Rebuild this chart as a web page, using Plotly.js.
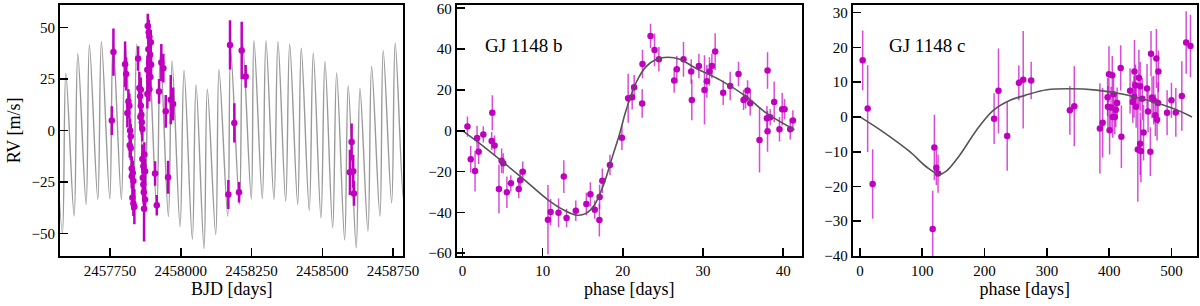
<!DOCTYPE html>
<html>
<head>
<meta charset="utf-8">
<script src="https://cdn.plot.ly/plotly-3.0.1.min.js"></script>
<style>html,body{margin:0;padding:0;background:#fff}#chart{width:1200px;height:306px}</style>
</head>
<body>
<div id="chart"></div>
<script>
// ---------- Left panel: time series ----------
var ts_bjd = [2457756, 2457761.8, 2457803, 2457806.5, 2457811, 2457814.7, 2457818, 2457819.6, 2457820.6, 2457823,
  2457823, 2457826.5, 2457826.5, 2457830, 2457828.8, 2457832.3, 2457832.3, 2457835.8, 2457848.9, 2457853.5,
  2457856, 2457858.4, 2457858.4, 2457857, 2457860.5, 2457862, 2457864, 2457864, 2457865.5, 2457867.6,
  2457867.6, 2457869, 2457870, 2457871, 2457873.6, 2457873.6, 2457881.7, 2457881.7, 2457883.1, 2457885.3,
  2457886.6, 2457887.7, 2457887.7, 2457888.8, 2457888.8, 2457891.2, 2457892.3, 2457893.7, 2457894.8, 2457908.9,
  2457914.9, 2457923, 2457931, 2457938.2, 2457946.6, 2457954.8, 2457964.3, 2457972.5,
  2458167.8, 2458173.7, 2458189, 2458205.5, 2458215, 2458229.1,
  2458597.4, 2458603.4, 2458609, 2458611.6];
var ts_rv = [4.8, 38.1, 32.2, 27.5, 8.5, 14.1, 12, -7.2, 0, -2.8,
  -8.5, -18.5, -22.2, -20.6, -32.7, -24.6, -35.5, -37.1, 35, 20.6,
  16.6, 19.8, 12, 6.6, 7.7, 4, 0.7, -13.8, -23, -17.4,
  -26.2, -30, -38, -11.7, -19.8, -33.5, 29.5, 17.7, 50.8, 39.5,
  47.8, 33, 26.3, 45.6, 20.1, 36.8, 26, 42.9, 31.9, -20.9,
  -36.3, 19, 33, 30.3, 9.3, -22.7, 15, 12.9,
  -31.1, 41.6, 3.7, -30, 38.9, 26.3,
  -20.3, -5.6, -19.8, -30.6];
var ts_err = [7, 11.5, 11, 8, 7, 6, 6, 6, 6, 6,
  6, 6, 6, 6, 6, 6, 6, 8.5, 6, 8,
  7, 6, 6, 6, 6, 6, 6, 7, 7, 6,
  7, 6, 16, 6, 6, 6, 7, 7, 6, 7,
  6, 7, 7, 6, 6, 6, 6, 6, 6, 6,
  5, 6, 9, 7, 8, 8, 12, 8,
  7, 12, 9.5, 5, 14, 5.5,
  11, 9, 8, 6];
// model curve (extrema)
var model_bjd = [2457552.2, 2457581.6, 2457593.6, 2457622.9, 2457635.9, 2457665.3, 2457676.9, 2457706.6, 2457719.3, 2457748.9,
  2457760.6, 2457789.9, 2457803, 2457832.3, 2457844.3, 2457873.6, 2457886.6, 2457914.9, 2457927.6, 2457955.9,
  2457968.9, 2457997.2, 2458011.3, 2458040.6, 2458053.7, 2458081.9, 2458093.6, 2458123.2, 2458134.9, 2458165.6,
  2458176.2, 2458207, 2458218.6, 2458248.9, 2458258.5, 2458287.8, 2458300.8, 2458329.1, 2458343.2, 2458370.4,
  2458384.5, 2458412.8, 2458425.5, 2458453.7, 2458467.9, 2458495, 2458509.2, 2458536.4, 2458550.5, 2458578.7,
  2458591.4, 2458619.7, 2458632.8, 2458661, 2458674.1, 2458703.4, 2458715, 2458744.7, 2458757.4, 2458786,
  2458798.5];
var model_rv = [20, -50, 27.9, -41.6, 37.3, -35.9, 41.6, -33.5, 43.2, -33.2,
  43.5, -33.5, 43.2, -34.3, 41.9, -35.9, 40, -38.8, 37.6, -41.8,
  33.8, -46.8, 29.2, -52.8, 22.2, -57.4, 20.1, -50.5, 29.5, -41.6,
  38.6, -35.9, 42.5, -33.3, 43.7, -33.1, 43.7, -33.5, 43.2, -34.3,
  41.9, -35.9, 40.0, -38.8, 37.6, -42.4, 33.6, -47.3, 28.0, -53.2,
  21.6, -57, 20.4, -48.9, 31.1, -41.6, 38.8, -35.1, 42.4, -33,
  43.5];
var left_xticks = [2457750, 2458000, 2458250, 2458500, 2458750];

// ---------- Middle panel: GJ 1148 b ----------
var b_phase = [0.62, 1.03, 1.57, 1.82, 2.02, 2.6, 3.72, 3.64, 4.0, 4.55,
  4.88, 5.08, 5.54, 6.03, 7.02, 7.19, 7.52, 10.66, 10.99, 11.98,
  12.64, 12.98, 14.13, 15.45, 15.95, 16.49, 17.07, 17.1, 17.44, 18.39,
  19.88, 20.66, 21.16, 21.41, 22.45, 22.41, 23.45, 23.95, 24.49, 26.4,
  26.73, 27.56, 28.52, 28.6, 29.48, 30.18, 30.47, 30.8, 31.1, 31.51,
  32.51, 33.38, 34.42, 35.05, 35.3, 35.55, 35.88, 37.04, 38.04, 37.96,
  38.04, 38.37, 38.87, 39.53, 39.87, 40.16, 40.87, 41.2];
var b_rv = [2.0, -14.0, -19.8, -3.6, -10.3, -1.8, 8.8, -5.1, -7.3, -28.6,
  -14.7, -16.0, -30.2, -25.8, -28.6, -24.3, -20.1, -43.6, -39.8, -40.2,
  -22.5, -42.8, -39.2, -35.9, -31.2, -38.7, -43.8, -32.5, -24.5, -16.8,
  -3.4, 15.9, 16.4, 21.3, 32.7, 13.3, 46.4, 39.6, 35.0, 24.6,
  30.1, 35.0, 29.0, 15.1, 31.7, 20.0, 24.2, 29.0, 31.7, 38.8,
  18.6, 21.9, 27.8, 15.1, 15.9, 19.7, 13.5, -4.5, 29.5, 6.1,
  -0.3, 6.6, 14.1, 0.7, 10.5, 10.5, 0.7, 5.0];
var b_err = [5, 6.5, 10, 6, 6, 4, 8.6, 4.5, 5, 12,
  6, 5, 7.7, 4, 4.5, 5, 5, 17, 6.5, 7,
  8, 4.5, 5, 5.5, 6, 4.5, 8, 6, 6, 5,
  6, 12, 6, 6, 7, 7, 6, 8, 6, 6,
  6.5, 8.5, 6, 10, 6, 17, 8, 7, 6, 9,
  6, 7, 6, 5, 5, 5, 6, 16, 9, 6,
  10, 4, 10, 6, 8, 5, 5, 5];
var b_model_phase = [0, 3.2, 7.4, 10.7, 12.7, 14.3, 15.4, 16.45, 17.5, 18.7, 19.6, 20.4, 21.7, 22.9, 24.2, 25.6, 27.1, 29.1, 32.1, 35.4, 37.9, 41.4];
var b_model_rv = [0, -9.5, -23, -34, -39, -41.4, -40.5, -36.4, -27.5, -12.7, -1.5, 10, 24, 31.4, 35, 36, 35, 30.6, 24.9, 16.7, 8.6, 0.5];

// ---------- Right panel: GJ 1148 c ----------
var c_phase = [4.3, 12.3, 20.3, 119.4, 116.7, 122.6, 125.3, 215.3, 222.3, 236.3,
  255, 262, 274.8, 336.9, 344, 385.1, 389.5, 397.5, 399.7, 398,
  400.7, 405, 403, 405.8, 407, 409, 412.8, 410.6, 418.5, 419.6,
  433.6, 437.9, 440.6, 442.2, 443.3, 440, 446, 449.8, 449.8, 447.7,
  453.1, 455.2, 451, 460.8, 462.4, 467.2, 466.1, 468.8, 471.5, 475.8,
  474.2, 476.9, 479, 478.5, 493, 500, 507, 516.6, 523.6, 530.5];
var c_rv = [16.3, 2.4, -19.3, -8.8, -32.2, -14.6, -16.3, -0.5, 7.5, -5.5,
  9.8, 10.7, 10.5, 1.9, 3.1, -3.3, -1.7, 5.7, 12.3, 2.9,
  -3.8, 12, 2.7, 0, 6.5, 0, 4, 2.1, 14.1, -5.7,
  7.5, 4.3, 13.1, 9.1, 2.9, 5.8, -9.4, -7.7, 8.8, 11.3,
  5.2, -4.5, -9.8, 8.2, 1.6, 18.2, -10, 5.6, 4.8, 16.8,
  0.5, -0.8, 13.1, 4, 1.2, 4.8, 1.3, 6.0, 21.4, 20.4];
var c_err = [8.6, 12.5, 10, 9.4, 11, 5, 5.5, 7.3, 12.2, 10,
  5, 14, 5.4, 7, 11.5, 13, 10, 5.5, 8, 6,
  7, 5.5, 6, 6, 6, 5, 4.5, 5, 6.5, 9,
  6.5, 6, 9, 6, 6, 6, 15, 9, 7, 8,
  6, 8, 9, 7, 6, 6.5, 7, 6, 7, 8.5,
  6, 6, 6, 6, 6.5, 5, 7, 10, 9, 9];
var c_model_phase = [0, 37, 80, 107, 127, 139, 160, 187, 214, 241, 265, 300, 337, 380, 423, 466, 503, 533];
var c_model_rv = [0, -4.3, -10, -14.4, -16.5, -15.5, -11, -3.8, 1.9, 4.8, 6.2, 7.8, 8.1, 7.7, 6.5, 4.6, 2.4, 0];

var labels = {b: 'GJ 1148 b', c: 'GJ 1148 c', xLeft: 'BJD [days]', xPhase: 'phase [days]', y: 'RV [m/s]'};

// ---------- build ----------
var MAG = '#bf00bf';
var FONT = '"Liberation Serif", "DejaVu Serif", serif';

var traces = [
  {x: model_bjd, y: model_rv, mode: 'lines', line: {color: '#9a9a9a', width: 1.4, shape: 'spline', smoothing: 1},
   xaxis: 'x', yaxis: 'y', hoverinfo: 'skip'},
  {x: ts_bjd, y: ts_rv, mode: 'markers', marker: {color: MAG, size: 6.5},
   error_y: {type: 'data', array: ts_err, visible: true, color: MAG, thickness: 2.5, width: 0},
   xaxis: 'x', yaxis: 'y'},
  {x: b_phase, y: b_rv, mode: 'markers', marker: {color: MAG, size: 6.5},
   error_y: {type: 'data', array: b_err, visible: true, color: 'rgba(200,0,200,0.7)', thickness: 1.5, width: 0},
   xaxis: 'x2', yaxis: 'y2'},
  {x: b_model_phase, y: b_model_rv, mode: 'lines', line: {color: '#555555', width: 1.6, shape: 'spline'},
   xaxis: 'x2', yaxis: 'y2', hoverinfo: 'skip'},
  {x: c_phase, y: c_rv, mode: 'markers', marker: {color: MAG, size: 6.5},
   error_y: {type: 'data', array: c_err, visible: true, color: 'rgba(200,0,200,0.7)', thickness: 1.5, width: 0},
   xaxis: 'x3', yaxis: 'y3'},
  {x: c_model_phase, y: c_model_rv, mode: 'lines', line: {color: '#555555', width: 1.6, shape: 'spline'},
   xaxis: 'x3', yaxis: 'y3', hoverinfo: 'skip'}
];

function ax(extra) {
  var a = {showline: true, linecolor: '#000', linewidth: 2, mirror: true,
    ticks: 'inside', ticklen: 8, tickwidth: 1.6, tickcolor: '#000',
    showgrid: false, zeroline: false,
    tickfont: {family: FONT, size: 15, color: '#000'}};
  for (var k in extra) a[k] = extra[k];
  return a;
}
var titleFont = {family: FONT, size: 18, color: '#000'};

var layout = {
  width: 1200, height: 306,
  margin: {l: 60, r: 3, t: 5, b: 50},
  paper_bgcolor: '#fff', plot_bgcolor: '#fff',
  showlegend: false,
  xaxis: ax({domain: [0, 0.30194], range: [2457573, 2458786], tickvals: left_xticks, tickformat: 'd',
    anchor: 'y', title: {text: labels.xLeft, font: titleFont, standoff: 3}}),
  yaxis: ax({domain: [0, 1], range: [-61, 61], dtick: 25, tick0: 0, anchor: 'x',
    title: {text: labels.y, font: titleFont, standoff: 6}}),
  xaxis2: ax({domain: [0.3489, 0.65233], range: [-0.72, 42.3], dtick: 10, tick0: 0, anchor: 'y2',
    title: {text: labels.xPhase, font: titleFont, standoff: 3}}),
  yaxis2: ax({domain: [0, 1], range: [-61.4, 61.6], dtick: 20, tick0: 0, anchor: 'x2'}),
  xaxis3: ax({domain: [0.69719, 1], range: [-11.7, 541], dtick: 100, tick0: 0, anchor: 'y3',
    title: {text: labels.xPhase, font: titleFont, standoff: 3}}),
  yaxis3: ax({domain: [0, 1], range: [-40, 32.2], dtick: 10, tick0: 0, anchor: 'x3'}),
  annotations: [
    {text: labels.b, xref: 'x2 domain', yref: 'y2 domain', x: 0.077, y: 0.837, xanchor: 'left', yanchor: 'middle',
     showarrow: false, font: {family: FONT, size: 19, color: '#000'}},
    {text: labels.c, xref: 'x3 domain', yref: 'y3 domain', x: 0.099, y: 0.837, xanchor: 'left', yanchor: 'middle',
     showarrow: false, font: {family: FONT, size: 19, color: '#000'}}
  ]
};

Plotly.newPlot('chart', traces, layout, {staticPlot: true, displayModeBar: false});
</script>
</body>
</html>
